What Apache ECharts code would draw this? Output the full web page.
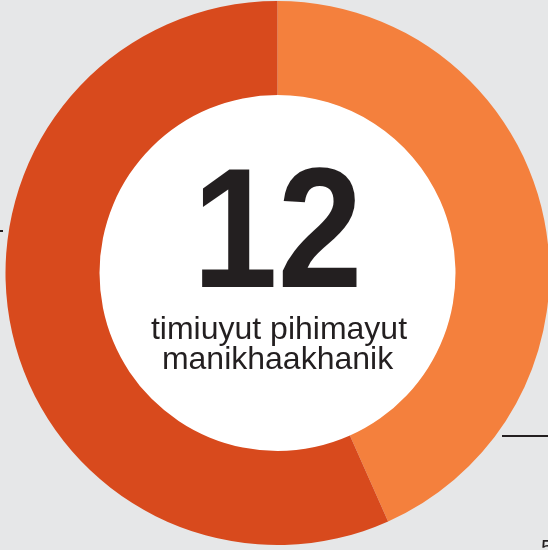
<!DOCTYPE html>
<html>
<head>
<meta charset="utf-8">
<script src="https://cdn.jsdelivr.net/npm/echarts@6/dist/echarts.min.js"></script>
<style>
    html, body {
        margin: 0;
        padding: 0;
        background: #e6e7e8;
    }
    #chart {
        width: 548px;
        height: 550px;
    }
</style>
</head>
<body>
<div id="chart"></div>
<script>
// slices, clockwise from 12 o'clock
const sliceNames = ['a', 'b'];
const sliceValues = [13, 17];
const sliceColors = ['#f4803d', '#d84a1d'];

const bigNumber = '12';
const caption = ['timiuyut pihimayut', 'manikhaakhanik'];

const cx = 277.5;
const cy = 273;

const chart = echarts.init(document.getElementById('chart'));

chart.setOption({
    backgroundColor: '#e6e7e8',
    animation: false,
    series: [
        {
            type: 'pie',
            center: [cx, cy],
            radius: [178, 272],
            startAngle: 90,
            clockwise: true,
            silent: true,
            label: { show: false },
            labelLine: { show: false },
            itemStyle: { borderWidth: 0 },
            data: sliceNames.map((n, i) => ({
                name: n,
                value: sliceValues[i],
                itemStyle: { color: sliceColors[i] }
            }))
        }
    ],
    graphic: [
        {
            type: 'circle',
            shape: { cx: cx, cy: cy, r: 178.5 },
            style: { fill: '#ffffff' },
            z: 1
        },
        {
            type: 'text',
            x: 277.5,
            y: 240,
            scaleX: 0.9,
            z: 2,
            style: {
                text: bigNumber,
                fill: '#231f20',
                font: 'bold 170px "Liberation Sans", Arial, sans-serif',
                align: 'center',
                verticalAlign: 'middle'
            }
        },
        {
            type: 'text',
            x: 279,
            y: 330,
            z: 2,
            style: {
                text: caption[0],
                fill: '#231f20',
                font: 'normal 32px "Liberation Sans", Arial, sans-serif',
                align: 'center',
                verticalAlign: 'middle'
            }
        },
        {
            type: 'text',
            x: 277.5,
            y: 360,
            z: 2,
            style: {
                text: caption[1],
                fill: '#231f20',
                font: 'normal 32px "Liberation Sans", Arial, sans-serif',
                align: 'center',
                verticalAlign: 'middle'
            }
        },
        // cut-off annotation marks at the edges
        {
            type: 'line',
            shape: { x1: 0, y1: 231, x2: 3, y2: 231 },
            style: { stroke: '#231f20', lineWidth: 2 }
        },
        {
            type: 'line',
            shape: { x1: 502, y1: 436, x2: 548, y2: 436 },
            style: { stroke: '#231f20', lineWidth: 2 }
        },
        {
            type: 'text',
            x: 541,
            y: 538,
            style: {
                text: '5',
                fill: '#231f20',
                font: 'normal 22px "Liberation Sans", Arial, sans-serif'
            }
        }
    ]
});
</script>
</body>
</html>
